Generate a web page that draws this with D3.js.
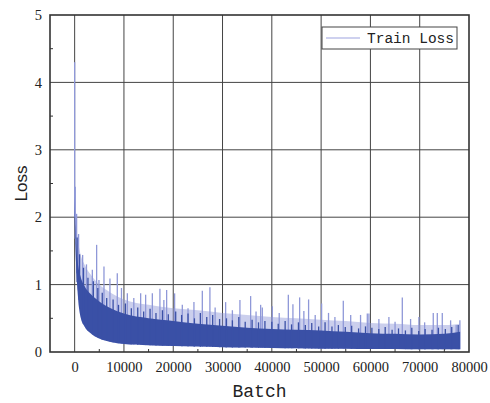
<!doctype html>
<html lang="en">
<head>
	<meta charset="UTF-8">
	<title>Train Loss</title>
	<script src="https://d3js.org/d3.v7.min.js"></script>
	<style>
		body { margin: 0; background: #fff; }
	</style>
</head>
<body>
	<div id="chart"></div>
	<script>
		// envelope of the dense part of the curve
		var knotBatch = [0, 150, 300, 600, 1200, 2000, 3250, 5000, 7300, 10000, 15000, 20000, 25000, 30000, 35000, 40000, 45000, 50000, 55000, 60000, 65000, 70000, 75000, 78200]
		var lossLow = [2.0, 1.6, 1.3, 0.9, 0.52, 0.38, 0.28, 0.2, 0.15, 0.12, 0.1, 0.09, 0.08, 0.07, 0.065, 0.06, 0.055, 0.05, 0.05, 0.045, 0.045, 0.04, 0.04, 0.04]
		var lossBand = [2.3, 1.85, 1.6, 1.35, 1.12, 0.98, 0.86, 0.75, 0.65, 0.57, 0.5, 0.46, 0.42, 0.39, 0.36, 0.34, 0.33, 0.32, 0.3, 0.28, 0.27, 0.26, 0.27, 0.3]
		var lossLight = [2.4, 2.1, 1.9, 1.7, 1.45, 1.3, 1.15, 1.0, 0.88, 0.78, 0.7, 0.65, 0.62, 0.58, 0.55, 0.52, 0.5, 0.48, 0.46, 0.43, 0.42, 0.4, 0.4, 0.42]

		// dense dark peaks just above the band
		var darkBatch = [500, 1000, 1800, 2700, 3800, 4700, 5600, 6500, 7800, 8900, 10300, 11500, 12800, 14000, 15300, 16500, 17800, 19000, 20500, 21700, 23000, 24300, 25500, 26800, 28000, 29400, 30800, 32000, 33300, 34600, 36000, 37300, 38600, 40000, 41300, 42700, 44000, 45400, 46800, 48100, 49500, 50800, 52200, 53500, 54900, 56200, 57600, 59000, 60300, 61700, 63000, 64400, 65700, 67100, 68400, 69800, 71100, 72500, 73800, 75200, 76500, 77800]
		var darkLoss = [1.7, 1.45, 1.25, 1.1, 1.05, 0.95, 0.88, 0.8, 0.78, 0.7, 0.72, 0.65, 0.66, 0.6, 0.64, 0.58, 0.62, 0.56, 0.6, 0.55, 0.57, 0.5, 0.58, 0.52, 0.55, 0.49, 0.5, 0.47, 0.52, 0.45, 0.48, 0.44, 0.46, 0.45, 0.42, 0.46, 0.41, 0.44, 0.4, 0.43, 0.38, 0.44, 0.38, 0.4, 0.37, 0.39, 0.35, 0.38, 0.36, 0.34, 0.37, 0.33, 0.35, 0.32, 0.36, 0.31, 0.34, 0.33, 0.36, 0.34, 0.37, 0.4]

		// isolated peaks above the band
		var spikeBatch = [0, 120, 400, 800, 1620, 2400, 3590, 4460, 4930, 5950, 7160, 8650, 9500, 10690, 12000, 13390, 14400, 15760, 17300, 18100, 18660, 20280, 21840, 23000, 24200, 25900, 27440, 28500, 30630, 32000, 33530, 35700, 36800, 37730, 38070, 40100, 41500, 43350, 44280, 45640, 46500, 47460, 48800, 50100, 51500, 52800, 54500, 56000, 58000, 59370, 59700, 61720, 63750, 65000, 66470, 68150, 69840, 71000, 72750, 73570, 74580, 76270, 77400, 78150]
		var spikeLoss = [4.3, 2.45, 2.05, 1.75, 1.44, 1.3, 1.22, 1.59, 1.07, 1.27, 1.09, 1.17, 0.95, 0.87, 0.8, 0.87, 0.85, 0.87, 0.94, 0.77, 0.92, 0.87, 0.7, 0.65, 0.74, 0.91, 0.96, 0.66, 0.74, 0.62, 0.77, 0.83, 0.6, 0.7, 0.66, 0.68, 0.58, 0.85, 0.71, 0.81, 0.61, 0.78, 0.55, 0.72, 0.58, 0.52, 0.76, 0.55, 0.55, 0.57, 0.57, 0.49, 0.52, 0.45, 0.81, 0.49, 0.52, 0.44, 0.58, 0.58, 0.58, 0.47, 0.4, 0.47]

		var xTicks = [0, 10000, 20000, 30000, 40000, 50000, 60000, 70000, 80000]
		var yTicks = [0, 1, 2, 3, 4, 5]

		var w = 490
		var h = 403
		var mLeft = 50, mRight = 469, mTop = 15, mBottom = 352

		var svg = d3.select('#chart')
			.append('svg')
			.attr('width', w)
			.attr('height', h)

		var x = d3.scaleLinear().domain([-5000, 80000]).range([mLeft, mRight])
		var y = d3.scaleLinear().domain([0, 5]).range([mBottom, mTop])

		var band = knotBatch.map(function(b, i) {
			return {b: b, lo: lossLow[i], hi: lossBand[i], light: lossLight[i]}
		})
		var lowAt = d3.scaleLinear().domain(knotBatch).range(lossLow)

		/* ---------------------------------- grid ---------------------------------- */
		svg.append('g')
			.selectAll('line')
			.data(xTicks.slice(0, -1))
			.join('line')
			.attr('x1', d => x(d)).attr('x2', d => x(d))
			.attr('y1', mTop).attr('y2', mBottom)
			.attr('stroke', '#444').attr('stroke-width', 1)

		svg.append('g')
			.selectAll('line')
			.data(yTicks.slice(1, -1))
			.join('line')
			.attr('x1', mLeft).attr('x2', mRight)
			.attr('y1', d => y(d)).attr('y2', d => y(d))
			.attr('stroke', '#444').attr('stroke-width', 1)

		/* ---------------------------------- data ---------------------------------- */
		svg.append('clipPath').attr('id', 'clip')
			.append('rect')
			.attr('x', mLeft).attr('y', mTop)
			.attr('width', mRight - mLeft).attr('height', mBottom - mTop)

		var plot = svg.append('g').attr('clip-path', 'url(#clip)')

		// light haze of the frequent smaller peaks
		plot.append('path')
			.datum(band)
			.attr('d', d3.area()
				.x(d => x(d.b))
				.y0(d => y(d.lo))
				.y1(d => y(d.light))
				.curve(d3.curveMonotoneX))
			.attr('fill', '#8b95d6')
			.attr('opacity', 0.45)

		plot.selectAll('line.spike')
			.data(spikeBatch)
			.join('line')
			.attr('class', 'spike')
			.attr('x1', d => x(d)).attr('x2', d => x(d))
			.attr('y1', d => y(lowAt(d)))
			.attr('y2', (d, i) => y(spikeLoss[i]))
			.attr('stroke', '#8f98d8')
			.attr('stroke-width', 1.3)

		plot.append('path')
			.datum(band)
			.attr('d', d3.area()
				.x(d => x(d.b))
				.y0(d => y(d.lo))
				.y1(d => y(d.hi))
				.curve(d3.curveMonotoneX))
			.attr('fill', '#3a50a6')

		plot.selectAll('line.dark')
			.data(darkBatch)
			.join('line')
			.attr('class', 'dark')
			.attr('x1', d => x(d)).attr('x2', d => x(d))
			.attr('y1', d => y(lowAt(d)))
			.attr('y2', (d, i) => y(darkLoss[i]))
			.attr('stroke', '#3a50a6')
			.attr('stroke-width', 1.3)

		/* ---------------------------------- axes ---------------------------------- */
		var xAxis = svg.append('g')
			.attr('transform', 'translate(0,' + mBottom + ')')
			.call(d3.axisBottom(x).tickValues(xTicks).tickSize(0).tickPadding(10).tickFormat(d3.format('d')))
		xAxis.select('.domain').remove()

		var yAxis = svg.append('g')
			.attr('transform', 'translate(' + mLeft + ',0)')
			.call(d3.axisLeft(y).tickValues(yTicks).tickSize(0).tickPadding(8).tickFormat(d3.format('d')))
		yAxis.select('.domain').remove()

		svg.selectAll('.tick text')
			.attr('font-family', '"Liberation Serif", "Times New Roman", serif')
			.attr('font-size', 14.5)
			.attr('fill', '#222')

		// minor ticks, inside
		var xMinor = d3.range(5000, 80000, 10000)
		svg.append('g')
			.selectAll('line')
			.data(xMinor)
			.join('line')
			.attr('x1', d => x(d)).attr('x2', d => x(d))
			.attr('y1', mBottom).attr('y2', mBottom - 3)
			.attr('stroke', '#333')

		var yMinor = [0.5, 1.5, 2.5, 3.5, 4.5]
		svg.append('g')
			.selectAll('line')
			.data(yMinor)
			.join('line')
			.attr('x1', mLeft).attr('x2', mLeft + 3)
			.attr('y1', d => y(d)).attr('y2', d => y(d))
			.attr('stroke', '#333')

		// frame
		svg.append('rect')
			.attr('x', mLeft).attr('y', mTop)
			.attr('width', mRight - mLeft).attr('height', mBottom - mTop)
			.attr('fill', 'none')
			.attr('stroke', '#333')
			.attr('stroke-width', 1.6)

		/* --------------------------------- labels --------------------------------- */
		svg.append('text')
			.attr('x', (mLeft + mRight) / 2)
			.attr('y', 397)
			.attr('text-anchor', 'middle')
			.attr('font-family', '"Liberation Mono", monospace')
			.attr('font-size', 18)
			.attr('fill', '#222')
			.text('Batch')

		svg.append('text')
			.attr('transform', 'translate(27,' + ((mTop + mBottom) / 2) + ') rotate(-90)')
			.attr('text-anchor', 'middle')
			.attr('font-family', '"Liberation Sans", Arial, sans-serif')
			.attr('font-size', 17)
			.attr('fill', '#222')
			.text('Loss')

		/* --------------------------------- legend --------------------------------- */
		var legend = svg.append('g')
		legend.append('rect')
			.attr('x', 322).attr('y', 27)
			.attr('width', 135).attr('height', 22)
			.attr('fill', '#fff')
			.attr('stroke', '#444')
			.attr('stroke-width', 1)
		legend.append('line')
			.attr('x1', 326).attr('x2', 360)
			.attr('y1', 38).attr('y2', 38)
			.attr('stroke', '#9ea3e0')
			.attr('stroke-width', 1.2)
		legend.append('text')
			.attr('x', 367).attr('y', 43)
			.attr('font-family', '"Liberation Mono", monospace')
			.attr('font-size', 14.5)
			.attr('fill', '#222')
			.text('Train Loss')
	</script>
</body>
</html>
